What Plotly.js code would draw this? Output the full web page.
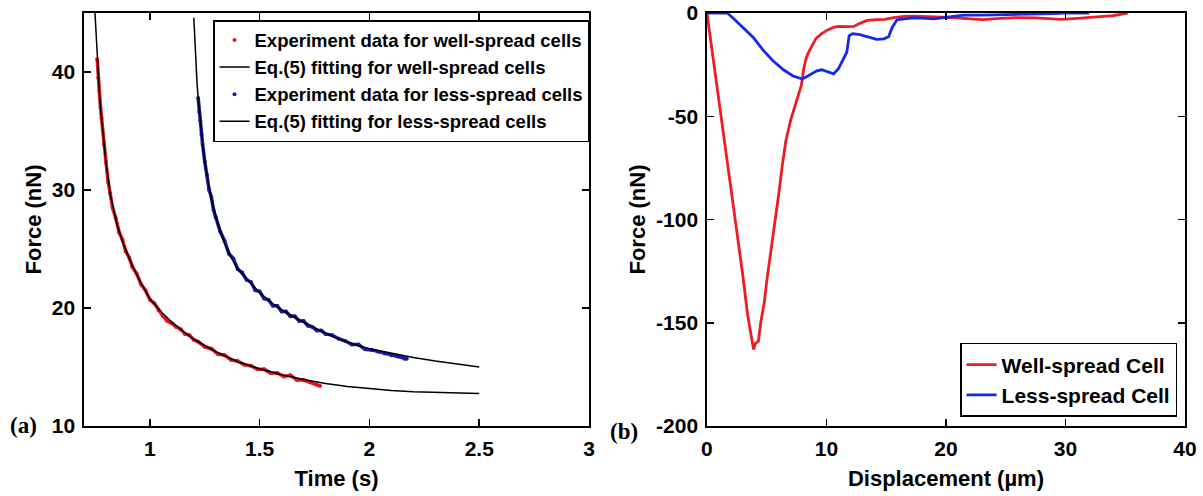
<!DOCTYPE html>
<html>
<head>
<meta charset="utf-8">
<script src="https://cdn.plot.ly/plotly-3.0.1.min.js"></script>
<style>html,body{margin:0;padding:0;background:#fff;}#chart{width:1203px;height:496px;}</style>
</head>
<body>
<div id="chart"></div>
<script>
// ---- Panel (a): stress relaxation ----
const wellDataT = [0.760,0.765,0.770,0.775,0.780,0.790,0.800,0.810,0.820,0.830,0.845,0.860,0.875,0.890,0.905,0.920,0.940,0.960,0.980,1.000,1.020,1.040,1.060,1.080,1.100,1.120,1.140,1.160,1.180,1.200,1.220,1.250,1.280,1.310,1.340,1.370,1.400,1.430,1.460,1.490,1.520,1.550,1.580,1.610,1.640,1.670,1.700,1.730,1.760,1.775];
const wellDataF = [41.1,39.5,38.4,37.0,36.1,33.9,32.4,30.7,29.7,28.5,27.6,26.4,25.8,24.8,24.3,23.5,22.9,22.0,21.5,20.7,20.4,19.8,19.3,18.9,18.7,18.4,18.2,17.8,17.7,17.3,17.15,16.7,16.55,16.1,16.0,15.6,15.5,15.2,15.1,14.8,14.8,14.5,14.5,14.2,14.3,13.9,13.9,13.7,13.5,13.4];
const wellFitT = [0.750,0.755,0.760,0.770,0.780,0.800,0.820,0.850,0.880,0.920,0.960,1.000,1.050,1.100,1.150,1.200,1.300,1.400,1.500,1.600,1.700,1.800,1.900,2.000,2.100,2.200,2.300,2.400,2.500];
const wellFitF = [45.0,43.0,41.0,38.3,36.0,32.3,29.6,27.1,25.4,23.6,22.1,20.8,19.7,18.8,18.05,17.35,16.3,15.45,14.85,14.35,13.95,13.6,13.35,13.15,13.0,12.9,12.83,12.78,12.75];
const lessDataT = [1.220,1.225,1.230,1.235,1.240,1.250,1.260,1.270,1.280,1.290,1.300,1.320,1.340,1.360,1.380,1.400,1.420,1.440,1.460,1.480,1.500,1.520,1.540,1.560,1.580,1.600,1.620,1.640,1.660,1.680,1.700,1.720,1.740,1.760,1.780,1.800,1.830,1.860,1.890,1.920,1.950,1.980,2.010,2.040,2.070,2.100,2.130,2.160,2.170];
const lessDataF = [37.8,36.6,35.9,34.7,33.9,32.4,31.3,30.0,29.4,28.3,27.7,26.5,25.7,24.6,24.2,23.3,23.0,22.4,22.2,21.5,21.4,20.8,20.7,20.2,20.2,19.7,19.7,19.3,19.3,18.9,18.9,18.5,18.4,18.1,18.1,17.8,17.7,17.4,17.2,16.9,16.9,16.5,16.45,16.3,16.15,16.0,15.9,15.7,15.7];
const lessFitT = [1.200,1.205,1.210,1.215,1.220,1.230,1.240,1.250,1.270,1.290,1.310,1.340,1.370,1.400,1.450,1.500,1.550,1.600,1.650,1.700,1.750,1.800,1.850,1.900,1.950,2.000,2.100,2.200,2.300,2.400,2.500];
const lessFitF = [44.6,42.5,40.6,39.0,37.8,35.7,33.9,32.4,30.2,28.5,27.1,25.5,24.3,23.3,22.3,21.3,20.5,19.85,19.3,18.8,18.3,17.85,17.45,17.1,16.8,16.55,16.15,15.8,15.5,15.25,15.0];
const timeTicks = [1, 1.5, 2, 2.5, 3];
const forceTicksA = [10, 20, 30, 40];

// ---- Panel (b): force vs displacement ----
const wellD = [0,0.5,1.0,1.5,2.0,2.5,3.0,3.4,3.7,3.9,4.05,4.3,4.5,4.8,5.0,5.3,5.7,6.0,6.3,6.6,7.0,7.3,7.6,7.9,8.1,8.3,8.5,8.9,9.1,9.6,10.1,10.6,11.0,11.7,12.3,12.8,13.4,14.2,14.9,15.6,16.5,17.3,18.5,19.5,20.9,22.0,23.1,24.5,25.9,27.5,29.6,31.0,32.4,34.0,35.2];
const wellF = [0,-21,-42,-63,-84,-105,-127,-146,-156,-163,-160,-159,-150,-140,-130,-118,-100,-88,-74,-62,-52,-46,-41,-35,-27,-22,-19,-14.5,-12.5,-10,-8.2,-7,-6.5,-6.6,-6.5,-5,-3.6,-3.2,-3.1,-2.2,-1.6,-1.5,-1.7,-1.9,-2.3,-2.8,-3.2,-2.6,-2.2,-2.4,-3.1,-2.6,-1.9,-1.3,0];
const lessD = [0,1.7,2.2,3.0,3.9,4.7,5.5,6.4,7.2,8.0,8.6,9.2,9.6,10.1,10.6,11.0,11.4,11.7,11.9,12.2,12.8,13.5,14.2,14.8,15.2,15.5,15.9,16.5,17.3,18.0,19.0,19.8,20.6,21.5,23.0,25.0,27.3,29.0,29.8,31.0,32.0];
const lessF = [0,0,-2.5,-7,-12,-18,-23,-27.5,-30.5,-32,-30,-28,-27.5,-28.5,-29.5,-27,-22,-19,-11,-10,-10.5,-11.8,-12.8,-12.5,-11.5,-7,-3.3,-2.8,-2.3,-2.5,-2.8,-2.2,-1.5,-1,-1,-0.8,-0.7,-0.3,0,0,0];
const dispTicks = [0, 10, 20, 30, 40];
const forceTicksB = [0, -50, -100, -150, -200];
const forceTickTextB = ['0', '-50', '-100', '-150', '-200'];

const BOLD = 700;
const FAM = 'Liberation Sans, Arial, sans-serif';

const traces = [
  {x: wellDataT, y: wellDataF, mode: 'lines', line: {color: '#e3141b', width: 3.5}, showlegend: false, hoverinfo: 'skip', xaxis: 'x', yaxis: 'y'},
  {x: wellDataT, y: wellDataF, mode: 'markers', marker: {color: '#e3141b', size: 4}, name: 'Experiment data for well-spread cells', xaxis: 'x', yaxis: 'y', legend: 'legend'},
  {x: wellFitT, y: wellFitF, mode: 'lines', line: {color: '#000', width: 1.5}, name: 'Eq.(5) fitting for well-spread cells', xaxis: 'x', yaxis: 'y', legend: 'legend'},
  {x: lessDataT, y: lessDataF, mode: 'lines', line: {color: '#1a1ab0', width: 3.5}, showlegend: false, hoverinfo: 'skip', xaxis: 'x', yaxis: 'y'},
  {x: lessDataT, y: lessDataF, mode: 'markers', marker: {color: '#1a1ab0', size: 4}, name: 'Experiment data for less-spread cells', xaxis: 'x', yaxis: 'y', legend: 'legend'},
  {x: lessFitT, y: lessFitF, mode: 'lines', line: {color: '#000', width: 1.5}, name: 'Eq.(5) fitting for less-spread cells', xaxis: 'x', yaxis: 'y', legend: 'legend'},
  {x: wellD, y: wellF, mode: 'lines', line: {color: '#ee1c24', width: 2.8}, name: 'Well-spread Cell', xaxis: 'x2', yaxis: 'y2', legend: 'legend2'},
  {x: lessD, y: lessF, mode: 'lines', line: {color: '#1428f0', width: 2.8}, name: 'Less-spread Cell', xaxis: 'x2', yaxis: 'y2', legend: 'legend2'}
];

const axisCommon = {
  ticks: 'inside', ticklen: 7, tickwidth: 1.5, tickcolor: '#000',
  showline: true, linewidth: 1.6, linecolor: '#000', mirror: 'ticks',
  showgrid: false, zeroline: false, ticklabelstandoff: 3,
  tickfont: {family: FAM, size: 21, weight: BOLD, color: '#000'}
};
const titleFont = {family: FAM, size: 22, weight: BOLD, color: '#000'};

const layout = {
  width: 1203, height: 496,
  margin: {l: 84, r: 18, t: 13, b: 70},
  paper_bgcolor: '#fff', plot_bgcolor: '#fff',
  font: {family: FAM, color: '#000', weight: BOLD},
  showlegend: true,
  xaxis: Object.assign({}, axisCommon, {domain: [0, 0.4587], range: [0.7, 3], tickvals: timeTicks, anchor: 'y',
    title: {text: 'Time (s)', font: titleFont, standoff: 12}}),
  yaxis: Object.assign({}, axisCommon, {domain: [0, 1], range: [10, 45], tickvals: forceTicksA, anchor: 'x',
    title: {text: 'Force (nN)', font: titleFont, standoff: 4}}),
  xaxis2: Object.assign({}, axisCommon, {domain: [0.5658, 1], range: [0, 40], tickvals: dispTicks, anchor: 'y2',
    title: {text: 'Displacement (µm)', font: titleFont, standoff: 12}}),
  yaxis2: Object.assign({}, axisCommon, {domain: [0, 1], range: [-200, 0], tickvals: forceTicksB, ticktext: forceTickTextB, anchor: 'x2',
    title: {text: 'Force (nN)', font: titleFont, standoff: 4}}),
  legend: {x: 0.4587, xanchor: 'right', y: 0.983, yanchor: 'top', bgcolor: '#fff', bordercolor: '#000', borderwidth: 1.5,
    font: {family: FAM, size: 18.5, weight: BOLD, color: '#000'}, tracegroupgap: 0, traceorder: 'normal'},
  legend2: {x: 0.9928, xanchor: 'right', y: 0.0218, yanchor: 'bottom', bgcolor: '#fff', bordercolor: '#000', borderwidth: 1.5,
    font: {family: FAM, size: 21, weight: BOLD, color: '#000'}, tracegroupgap: 0, traceorder: 'normal'},
  annotations: [
    {text: '(a)', xref: 'paper', yref: 'paper', x: -0.069, y: 0.002, xanchor: 'left', yanchor: 'middle', showarrow: false,
      font: {family: 'Liberation Serif, Times New Roman, serif', size: 23, weight: BOLD, color: '#000'}},
    {text: '(b)', xref: 'paper', yref: 'paper', x: 0.4759, y: -0.0145, xanchor: 'left', yanchor: 'middle', showarrow: false,
      font: {family: 'Liberation Serif, Times New Roman, serif', size: 23, weight: BOLD, color: '#000'}}
  ]
};

Plotly.newPlot('chart', traces, layout, {displayModeBar: false, staticPlot: true});
</script>
</body>
</html>
